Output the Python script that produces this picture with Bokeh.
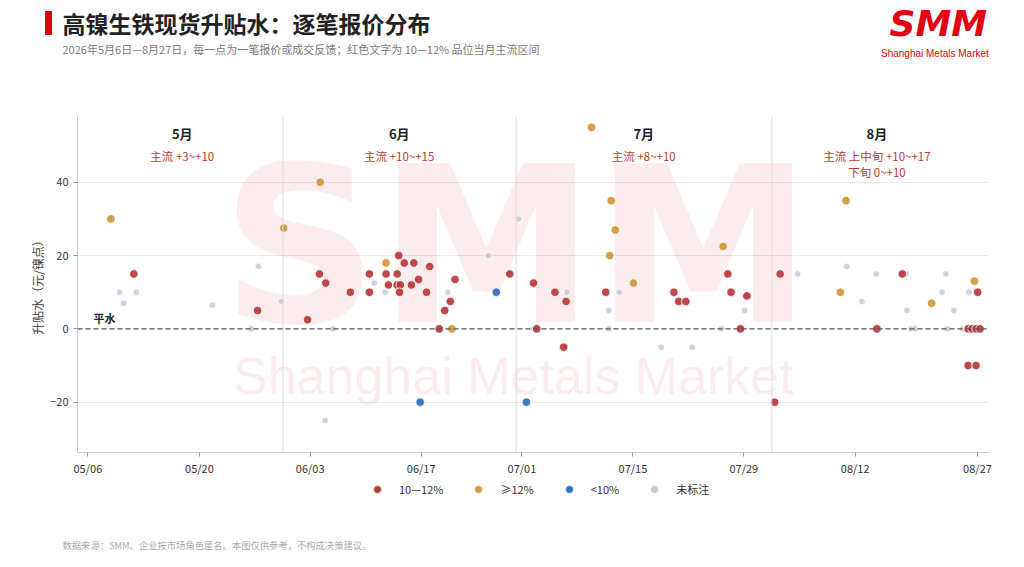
from bokeh.plotting import figure
from bokeh.models import Range1d, FixedTicker, Span, Legend, LegendItem
from bokeh.layouts import column
from bokeh.embed import file_html
from bokeh.resources import INLINE
from bokeh.core.properties import value

# ---------------- data ----------------
title_text = "高镍生铁现货升贴水：逐笔报价分布"
subtitle_text = "2026年5月6日—8月27日，每一点为一笔报价或成交反馈；红色文字为 10—12% 品位当月主流区间"
footer_text = "数据来源：SMM。企业按市场角色匿名。本图仅供参考，不构成决策建议。"
y_label = "升贴水（元/镍点）"
par_label = "平水"

# x is "days after 05/06" as laid out on the reference axis
tick_days = [0, 14.07, 28.03, 42.03, 54.73, 68.73, 82.72, 96.76, 112.18]
tick_labels = ["05/06", "05/20", "06/03", "06/17", "07/01", "07/15", "07/29", "08/12", "08/27"]
y_ticks = [-20, 0, 20, 40]
month_breaks = [24.59, 54.01, 86.25]

month_names = ["5月", "6月", "7月", "8月"]
month_notes = ["主流 +3~+10", "主流 +10~+15", "主流 +8~+10", "主流 上中旬 +10~+17"]
late_aug_note = "下旬 0~+10"

series_names = ["10—12%", "≥12%", "<10%", "未标注"]

red_day = [5.8, 21.4, 27.7, 29.2, 30.0, 33.1, 35.5, 35.5, 37.6, 37.9, 39.0, 39.2, 39.9, 41.1,
           39.0, 39.4, 39.3, 40.8, 41.7, 43.1, 42.7, 46.3, 45.7, 45.0, 44.3, 53.2, 56.2, 56.6,
           58.9, 60.3, 60.0, 65.3, 73.9, 74.5, 75.4, 80.7, 81.1, 83.1, 82.3, 87.3, 86.6, 99.5,
           102.7, 112.2, 111.0, 112.0, 111.0, 111.5, 112.0, 112.5]
red_val = [15, 5, 2.5, 15, 12.5, 10, 15, 10, 15, 12, 15, 20, 18, 18,
           12, 12, 10, 12, 13.5, 17, 10, 13.5, 7.5, 5, 0, 15, 12.5, 0,
           10, 7.5, -5, 10, 10, 7.5, 7.5, 15, 10, 9, 0, 15, -20, 0,
           15, 10, -10, -10, 0, 0, 0, 0]

gold_day = [2.9, 24.7, 29.3, 37.6, 45.9, 63.5, 66.0, 66.5, 65.8, 68.8, 80.1, 95.6, 94.9, 106.4, 111.8]
gold_val = [30, 27.5, 40, 18, 0, 55, 35, 27, 20, 12.5, 22.5, 35, 10, 7, 13]

blue_day = [41.9, 51.5, 55.3]
blue_val = [-20, 10, -20]

grey_day = [4.0, 4.5, 6.1, 15.7, 21.5, 21.7, 20.6, 24.4, 30.9, 29.9, 36.1, 37.5, 45.4, 50.5,
            54.3, 56.2, 60.4, 67.0, 65.7, 65.7, 72.3, 76.2, 79.9, 82.8, 89.5, 95.7, 97.6, 99.4,
            103.2, 103.3, 103.8, 104.3, 107.7, 108.2, 109.2, 108.4, 110.3, 111.1]
grey_val = [10, 7, 10, 6.5, 17, 5, 0, 7.5, 0, -25, 12.5, 10, 10, 20,
            30, 0, 10, 10, 5, 0, -5, -5, 0, 5, 15, 17, 7.5, 15,
            15, 5, 0, 0, 10, 15, 5, 0, 0, 10]

# ---------------- style ----------------
W = 1024
CJK_NAME = "Noto Sans CJK SC"
CJK = value(CJK_NAME)
RED = "#b8383a"
GOLD = "#d4993f"
BLUE = "#3470c0"
GREY = "#c3cad8"
NOTE_RED = "#c0392b"
BRAND = "#e50012"


def blank(height):
    f = figure(width=W, height=height, x_range=Range1d(0, W), y_range=Range1d(height, 0),
               x_axis_type=None, y_axis_type=None, output_backend="svg",
               toolbar_location=None, min_border=0, outline_line_color=None)
    f.frame_align = False
    f.grid.visible = False
    return f


# ---------------- header ----------------
header = blank(108)
header.quad(left=[45], right=[51], top=[11], bottom=[34], color=BRAND)
header.text(x=[62], y=[22.5], text=[title_text], text_font=CJK, text_font_size="23px",
            text_font_style="bold", text_color="#222222", text_baseline="middle", text_align="left")
header.text(x=[62], y=[48], text=[subtitle_text], text_font=CJK, text_font_size="11px",
            text_color="#7a7a7a", text_baseline="middle", text_align="left")
header.text(x=[889], y=[23], text=["SMM"], text_font=value("DejaVu Sans"), text_font_size="36px",
            text_font_style="bold italic", text_color=BRAND, text_baseline="middle", text_align="left")
header.text(x=[880.5], y=[52.5], text=["Shanghai Metals Market"], text_font=value("Liberation Sans"),
            text_font_size="10px", text_color=BRAND, text_baseline="middle", text_align="left")

# ---------------- main plot ----------------
p = figure(width=W, height=370, x_range=Range1d(-1.31, 113.57), y_range=Range1d(-33.74, 57.96),
           output_backend="svg", toolbar_location=None,
           min_border_left=77, min_border_right=36, min_border_top=8, min_border_bottom=25,
           outline_line_color=None)
p.background_fill_color = "white"

# watermark
p.text(x=[16.8], y=[22.4], text=["SMM"], text_font=value("DejaVu Sans"), text_font_size="218px",
       text_font_style="bold", text_color=BRAND, text_alpha=0.075,
       text_baseline="middle", text_align="left")
p.text(x=[18.3], y=[-12.8], text=["Shanghai Metals Market"], text_font=value("Liberation Sans"),
       text_font_size="52px", text_color=BRAND, text_alpha=0.075,
       text_baseline="middle", text_align="left")

# axes
p.xaxis.ticker = FixedTicker(ticks=tick_days)
p.xaxis.major_label_overrides = {t: l for t, l in zip(tick_days, tick_labels)}
p.yaxis.ticker = FixedTicker(ticks=y_ticks)
p.ygrid.ticker = FixedTicker(ticks=y_ticks)
p.xgrid.visible = False
p.ygrid.grid_line_color = "#e8e8e8"
p.ygrid.grid_line_width = 1
for ax in (p.xaxis[0], p.yaxis[0]):
    ax.axis_line_color = "#cccccc"
    ax.major_tick_line_color = "#999999"
    ax.major_tick_out = 4
    ax.major_tick_in = 0
    ax.minor_tick_line_color = None
    ax.major_label_text_font = CJK_NAME
    ax.major_label_text_font_size = "11px"
    ax.major_label_text_color = "#333333"
p.xaxis.major_label_standoff = 3
p.yaxis.major_label_standoff = 5
p.yaxis.axis_label = y_label
p.yaxis.axis_label_text_font = CJK_NAME
p.yaxis.axis_label_text_font_size = "12px"
p.yaxis.axis_label_text_font_style = "normal"
p.yaxis.axis_label_text_color = "#444444"
p.yaxis.axis_label_standoff = 1

for b in month_breaks:
    p.add_layout(Span(location=b, dimension="height", line_color="#dcdcdc", line_width=1))
p.add_layout(Span(location=0, dimension="width", line_color="#555555", line_width=1.2, line_dash="5 3"))

# month annotations
month_x = [11.9, 39.26, 70.1, 99.5]
p.text(x=month_x, y=[53.2] * 4, text=month_names, text_font=CJK, text_font_size="13px",
       text_font_style="bold", text_color="#222222", text_align="center", text_baseline="middle")
p.text(x=month_x, y=[47.2] * 4, text=month_notes, text_font=CJK, text_font_size="11.5px",
       text_color=NOTE_RED, text_align="center", text_baseline="middle")
p.text(x=[99.5], y=[42.7], text=[late_aug_note], text_font=CJK, text_font_size="11.5px",
       text_color=NOTE_RED, text_align="center", text_baseline="middle")
p.text(x=[2.1], y=[2.9], text=[par_label], text_font=CJK, text_font_size="11px",
       text_font_style="bold", text_color="#222222", text_align="center", text_baseline="middle")

# points
mk = dict(line_color="white", line_width=0.8)
p.scatter(grey_day, grey_val, size=6.5, fill_color=GREY, fill_alpha=0.85, **mk)
p.scatter(red_day, red_val, size=8.5, fill_color=RED, fill_alpha=0.92, **mk)
p.scatter(gold_day, gold_val, size=8.5, fill_color=GOLD, fill_alpha=0.95, **mk)
p.scatter(blue_day, blue_val, size=8.5, fill_color=BLUE, fill_alpha=0.95, **mk)

# ---------------- legend strip ----------------
LH = 32
leg = blank(LH)
# swatch renderers sit outside the strip's own range, so only their legend glyphs show
swatches = [leg.scatter(x=[-100], y=[-100], size=9, fill_color=c, line_color="white", line_width=0.8)
            for c in (RED, GOLD, BLUE, GREY)]
legend = Legend(items=[LegendItem(label=n, renderers=[r]) for n, r in zip(series_names, swatches)],
                orientation="horizontal", location=(367, 11),
                glyph_width=20, glyph_height=20, label_height=20, label_standoff=12, spacing=25,
                padding=0, margin=0, border_line_color=None, background_fill_alpha=0,
                label_text_font=CJK_NAME, label_text_font_size="11px", label_text_color="#333333")
leg.add_layout(legend, "center")

# ---------------- footer ----------------
footer = blank(57)
footer.text(x=[62], y=[34], text=[footer_text], text_font=CJK, text_font_size="9.3px",
            text_color="#aaaaaa", text_baseline="middle", text_align="left")

layout = column(header, p, leg, footer, spacing=0)
open("out.html", "w").write(file_html(layout, INLINE))
